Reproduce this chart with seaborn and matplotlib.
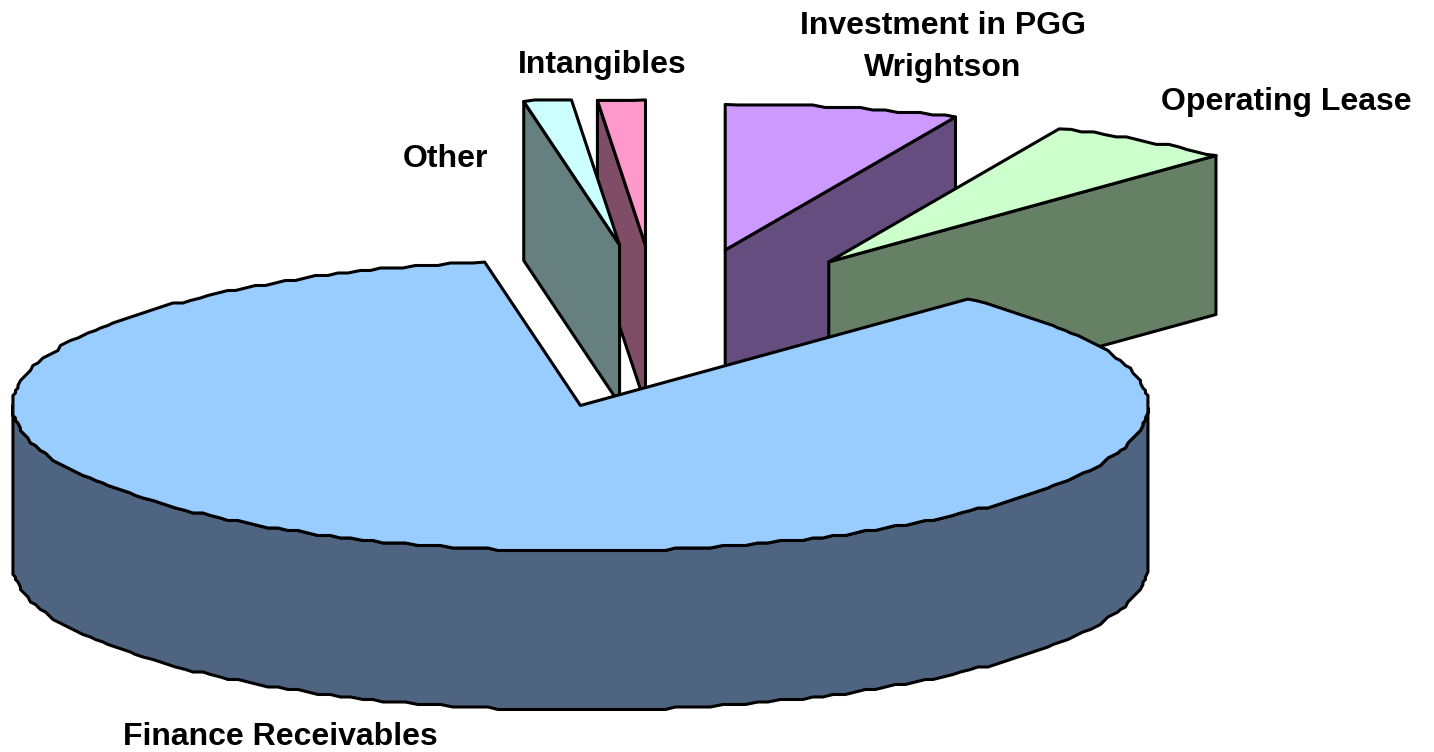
"""
Exploded 3D pie of assets, drawn on flat axes with a simple oblique projection
"""

import numpy as np
import matplotlib
matplotlib.use("Agg")
import matplotlib.pyplot as plt
import seaborn as sns

# ---------------- DATA ----------------
categories = ["Investment in PGG\nWrightson", "Operating Lease", "Finance Receivables",
              "Other", "Intangibles"]
shares = [6.65, 5.3, 85.35, 1.35, 1.35]

# ---------------- STYLE ----------------
top_colors = sns.color_palette(["#CC99FF", "#CCFFCC", "#99CCFF", "#CCFFFF", "#FF99CC"])
side_colors = sns.color_palette(["#664D80", "#668066", "#4F6480", "#668080", "#804D66"])
draw_order = [4, 3, 0, 1, 2]

CENTER_X, CENTER_Y = 662, 324
RADIUS_X, RADIUS_Y = 567.5, 145.5
DEPTH = 159
EXPLODE = 0.52
START_ANGLE = 90
SNAP = 2.5
LW = 2.2

# small per-slice corrections to the explode offset, in pixels
nudge = [(2, 0), (4, 1), (3, 9), (-5, -4), (-4, -3)]
label_pos = [(943, 47), (1286, 102), (280, 737), (445, 159), (602, 65)]
LABEL_SIZE = 23

sns.set_theme(style="white")
plt.rcParams["font.family"] = ["Liberation Sans", "DejaVu Sans"]


def rim_points(t0, t1):
    # coarse steps snapped to a grid give the rim its stepped look
    n = max(2, int(abs(t1 - t0) / 1.2) + 1)
    t = np.radians(np.linspace(t0, t1, n))
    x = RADIUS_X * np.cos(t)
    y = -RADIUS_Y * np.sin(t)
    inner = np.arange(n) > 0
    inner[-1] = False
    x[inner] = np.round(x[inner] / SNAP) * SNAP
    y[inner] = np.round(y[inner] / SNAP) * SNAP
    return x, y


def poly(ax, x, y, color, z):
    ax.fill(x, y, facecolor=color, edgecolor="black", linewidth=LW,
            joinstyle="round", zorder=z)


# ---------------- CANVAS ----------------
fig = plt.figure(figsize=(14.34, 7.52), dpi=100)
ax = fig.add_axes([0, 0, 1, 1])
ax.set_xlim(0, 1434)
ax.set_ylim(752, 0)
ax.axis("off")

# ---------------- SLICES ----------------
sweep = np.array(shares) / sum(shares) * 360
ends = START_ANGLE - np.cumsum(sweep)
starts = ends + sweep

z = 1
for i in draw_order:
    t0, t1 = starts[i], ends[i]
    mid = np.radians((t0 + t1) / 2)
    ox = CENTER_X + EXPLODE * RADIUS_X * np.cos(mid) + nudge[i][0]
    oy = CENTER_Y - EXPLODE * RADIUS_Y * np.sin(mid) + nudge[i][1]
    rx, ry = rim_points(t0, t1)
    rx, ry = rx + ox, ry + oy

    # radial walls, only the ones turned towards the viewer
    if np.cos(np.radians(t0)) < -1e-9:
        poly(ax, [ox, rx[0], rx[0], ox], [oy, ry[0], ry[0] + DEPTH, oy + DEPTH],
             side_colors[i], z)
    if np.cos(np.radians(t1)) > 1e-9:
        poly(ax, [ox, rx[-1], rx[-1], ox], [oy, ry[-1], ry[-1] + DEPTH, oy + DEPTH],
             side_colors[i], z)

    # outer wall, front half of the rim
    front = np.sin(np.radians(np.linspace(t0, t1, len(rx)))) < 0
    if front.any():
        fx, fy = rx[front], ry[front]
        poly(ax, np.r_[fx, fx[::-1]], np.r_[fy, fy[::-1] + DEPTH], side_colors[i], z)

    # top face
    poly(ax, np.r_[ox, rx], np.r_[oy, ry], top_colors[i], z + 1)
    z += 2

# ---------------- LABELS ----------------
for name, (lx, ly) in zip(categories, label_pos):
    ax.text(lx, ly, name, fontsize=LABEL_SIZE, fontweight="bold", color="black",
            ha="center", va="center", linespacing=1.48, zorder=z)

plt.savefig("out.png", dpi=100)
